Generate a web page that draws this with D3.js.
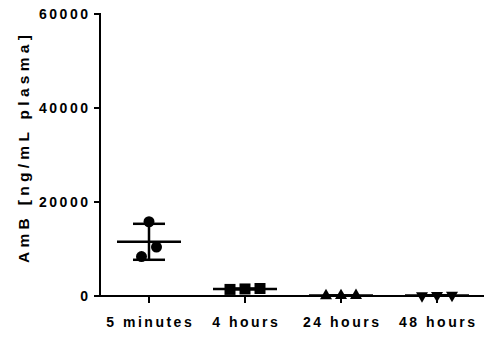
<!DOCTYPE html>
<html>
<head>
<meta charset="utf-8">
<script src="https://cdn.jsdelivr.net/npm/d3@7"></script>
<style>
  html, body { margin: 0; padding: 0; background: #fff; }
  svg { display: block; }
  text { font-family: "Liberation Sans", Arial, sans-serif; font-weight: bold; fill: #000; white-space: pre; }
</style>
</head>
<body>
<svg id="chart" width="486" height="337"></svg>
<script>
// Plasma AmB concentration per sampling time (ng/mL), one value per animal
const categories = ["5 minutes", "4 hours", "24 hours", "48 hours"];
const conc5min = [15800, 10400, 8400];
const conc4h = [1400, 1600, 1500];
const conc24h = [80, 50, 120];
const conc48h = [120, 60, 150];
const markerShapes = ["circle", "square", "triangle", "triangleDown"];
const yTicks = [0, 20000, 40000, 60000];
const yLabel = "AmB [ng/mL plasma]";

const groups = [conc5min, conc4h, conc24h, conc48h];

const svg = d3.select("#chart");
const axisX = 100, plotRight = 485, plotTop = 14, plotBottom = 296;

const y = d3.scaleLinear().domain([0, 60000]).range([plotBottom, plotTop]);
const x = d3.scaleBand().domain(categories).range([axisX + 1, plotRight]);

const tickFont = 14, tickLS = 2.5;
const titleFont = 15.5, titleLS = 4.3;

// Text with spacing between glyphs only (no trailing gap), so anchoring stays exact
function spacedText(sel, str, ls) {
  sel.selectAll("tspan").data(Array.from(str)).join("tspan")
    .attr("dx", (c, i) => (i ? ls : 0))
    .text(c => c);
  return sel;
}

const axisStroke = 2;

// Y axis
const yAxis = svg.append("g");
yAxis.append("line")
  .attr("x1", axisX).attr("x2", axisX)
  .attr("y1", y(60000) - 1).attr("y2", y(0) + 1)
  .attr("stroke", "#000").attr("stroke-width", axisStroke);
const yt = yAxis.selectAll("g.ytick").data(yTicks).enter().append("g")
  .attr("transform", d => `translate(${axisX},${y(d)})`);
yt.append("line").attr("x1", -6).attr("x2", 0).attr("stroke", "#000").attr("stroke-width", axisStroke);
yt.append("text")
  .attr("x", -12).attr("dy", "0.36em")
  .attr("text-anchor", "end").attr("font-size", tickFont)
  .each(function (d) { spacedText(d3.select(this), String(d), tickLS); });

// X axis
const xAxis = svg.append("g").attr("transform", `translate(0,${plotBottom})`);
xAxis.append("line")
  .attr("x1", axisX - 1).attr("x2", plotRight - 1)
  .attr("stroke", "#000").attr("stroke-width", axisStroke);
const xt = xAxis.selectAll("g.xtick").data(categories).enter().append("g")
  .attr("transform", d => `translate(${x(d) + x.bandwidth() / 2},0)`);
xt.append("line").attr("y1", 0).attr("y2", 7).attr("stroke", "#000").attr("stroke-width", axisStroke);
xt.append("text")
  .attr("y", 30.5)
  .attr("text-anchor", "middle").attr("font-size", tickFont)
  .each(function (d) { spacedText(d3.select(this), d, tickLS); });

// Y title
const title = svg.append("text")
  .attr("transform", `translate(29,${(plotTop + plotBottom) / 2 - 6}) rotate(-90)`)
  .attr("text-anchor", "middle").attr("font-size", titleFont);
spacedText(title, yLabel, titleLS);

// Symbol generators
const symbolFor = {
  circle: d3.symbol().type(d3.symbolCircle).size(Math.PI * 5.5 * 5.5),
  square: d3.symbol().type(d3.symbolSquare).size(11 * 11),
  triangle: d3.symbol().type(d3.symbolTriangle).size(Math.sqrt(3) / 4 * 12 * 12),
  triangleDown: d3.symbol().type(d3.symbolTriangle).size(Math.sqrt(3) / 4 * 12 * 12)
};

// Horizontal spread of markers: points whose vertical distance is less than
// a marker size are grouped and spread side by side around the category center.
function spreadOffsets(vals, markerSize, step) {
  const order = d3.range(vals.length).sort((a, b) => vals[a] - vals[b]);
  const offsets = new Array(vals.length).fill(0);
  let cluster = [order[0]];
  const flush = () => {
    const n = cluster.length;
    cluster.forEach((idx, i) => { offsets[idx] = (i - (n - 1) / 2) * step; });
  };
  for (let k = 1; k < order.length; k++) {
    const prev = cluster[cluster.length - 1];
    if (Math.abs(y(vals[order[k]]) - y(vals[prev])) < markerSize) cluster.push(order[k]);
    else { flush(); cluster = [order[k]]; }
  }
  flush();
  return offsets;
}

const plot = svg.append("g");
groups.forEach((vals, gi) => {
  const cx = x(categories[gi]) + x.bandwidth() / 2;
  const m = d3.mean(vals), sd = d3.deviation(vals);
  const g = plot.append("g");

  // SD whisker and caps
  g.append("line").attr("x1", cx).attr("x2", cx).attr("y1", y(m + sd)).attr("y2", y(m - sd))
    .attr("stroke", "#000").attr("stroke-width", 2.5);
  [m + sd, m - sd].forEach(v => {
    g.append("line").attr("x1", cx - 16).attr("x2", cx + 16).attr("y1", y(v)).attr("y2", y(v))
      .attr("stroke", "#000").attr("stroke-width", 2.5);
  });
  // Mean line
  g.append("line").attr("x1", cx - 32).attr("x2", cx + 32).attr("y1", y(m)).attr("y2", y(m))
    .attr("stroke", "#000").attr("stroke-width", 2.5);

  // Individual values
  const offs = spreadOffsets(vals, 11, 15);
  const shape = markerShapes[gi];
  g.selectAll("path.pt").data(vals).enter().append("path")
    .attr("class", "pt")
    .attr("d", symbolFor[shape]())
    .attr("transform", (d, i) => `translate(${cx + offs[i]},${y(d)})` + (shape === "triangleDown" ? " rotate(180)" : ""))
    .attr("fill", "#000");
});
</script>
</body>
</html>
